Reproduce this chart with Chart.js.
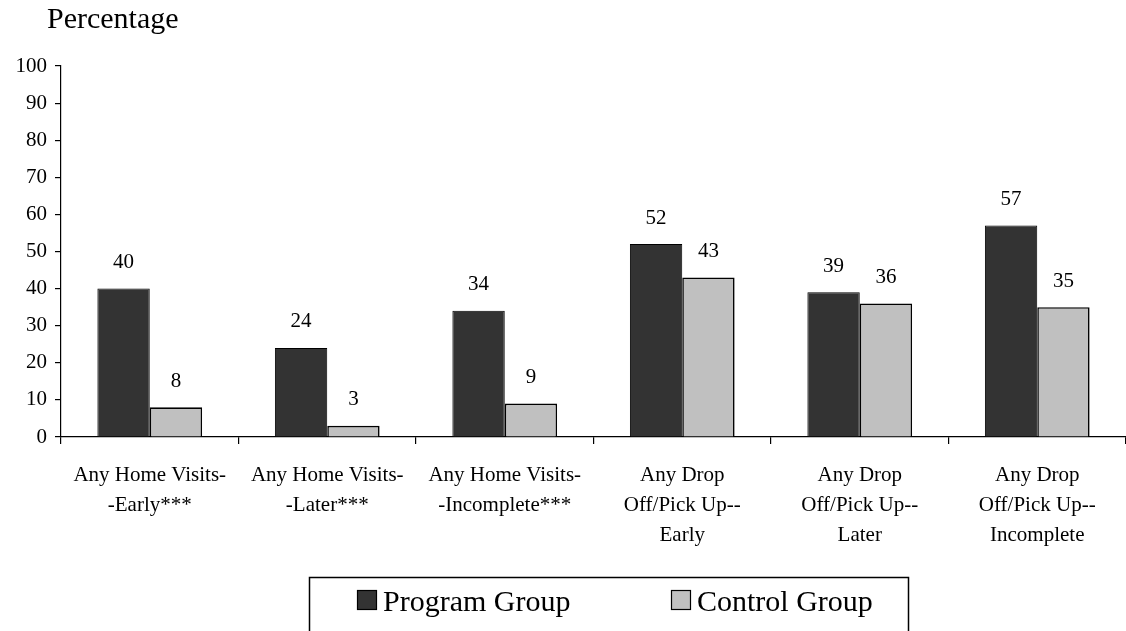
<!DOCTYPE html>
<html>
<head>
<meta charset="utf-8">
<title>Home Visits and Drop Off/Pick Up</title>
<script src="https://cdn.jsdelivr.net/npm/chart.js@4.4.1/dist/chart.umd.min.js"></script>
<style>
    html, body { margin: 0; padding: 0; background: #fff; }
    #wrap { width: 1126px; height: 631px; position: relative; }
</style>
</head>
<body>
<div id="wrap"><canvas id="visitChart"></canvas></div>
<script>
const categories = [
    ['Any Home Visits-', '-Early***'],
    ['Any Home Visits-', '-Later***'],
    ['Any Home Visits-', '-Incomplete***'],
    ['Any Drop', 'Off/Pick Up--', 'Early'],
    ['Any Drop', 'Off/Pick Up--', 'Later'],
    ['Any Drop', 'Off/Pick Up--', 'Incomplete']
];
const programValues = [40, 24, 34, 52, 39, 57];
const controlValues = [8, 3, 9, 43, 36, 35];
const yMin = 0;
const yMax = 100;
const yStep = 10;

const serif = "'Liberation Serif', 'Times New Roman', serif";

// value above each bar
const valueLabels = {
    id: 'valueLabels',
    afterDatasetsDraw(chart) {
        const ctx = chart.ctx;
        ctx.save();
        ctx.font = '21px ' + serif;
        ctx.fillStyle = '#000';
        ctx.textAlign = 'center';
        ctx.textBaseline = 'middle';
        chart.data.datasets.forEach((ds, i) => {
            chart.getDatasetMeta(i).data.forEach((bar, j) => {
                ctx.fillText(String(ds.data[j]), bar.x, bar.y - 26);
            });
        });
        ctx.restore();
    }
};

// y axis caption and boxed legend
const extras = {
    id: 'extras',
    afterDraw(chart) {
        const ctx = chart.ctx;
        ctx.save();
        ctx.fillStyle = '#000';
        ctx.font = '30px ' + serif;
        ctx.textAlign = 'left';
        ctx.textBaseline = 'alphabetic';
        ctx.fillText('Percentage', 47, 28);

        ctx.lineWidth = 1.5;
        ctx.strokeStyle = '#000';
        ctx.strokeRect(309.5, 577.5, 599, 80);

        const items = [
            { x: 357, ds: chart.data.datasets[0] },
            { x: 671, ds: chart.data.datasets[1] }
        ];
        items.forEach(it => {
            ctx.fillStyle = it.ds.backgroundColor;
            ctx.fillRect(it.x, 590, 20, 20);
            ctx.lineWidth = 1.2;
            ctx.strokeStyle = '#000';
            ctx.strokeRect(it.x + 0.5, 590.5, 19, 19);
            ctx.fillStyle = '#000';
            ctx.font = '30px ' + serif;
            ctx.fillText(it.ds.label, it.x + 26, 611);
        });
        ctx.restore();
    }
};

const ctx = document.getElementById('visitChart').getContext('2d');
new Chart(ctx, {
    type: 'bar',
    data: {
        labels: categories,
        datasets: [{
            label: 'Program Group',
            data: programValues,
            backgroundColor: '#333333',
            borderColor: '#000',
            borderWidth: 1,
            categoryPercentage: 0.59,
            barPercentage: 1
        }, {
            label: 'Control Group',
            data: controlValues,
            backgroundColor: '#c0c0c0',
            borderColor: '#000',
            borderWidth: 1.6,
            categoryPercentage: 0.59,
            barPercentage: 1
        }]
    },
    options: {
        responsive: true,
        maintainAspectRatio: false,
        animation: false,
        layout: { padding: { top: 66, right: 0, left: 0, bottom: 0 } },
        plugins: {
            legend: { display: false },
            tooltip: { enabled: false }
        },
        scales: {
            x: {
                grid: {
                    drawOnChartArea: false,
                    color: '#000',
                    tickLength: 7,
                    lineWidth: 1.2
                },
                border: { color: '#000', width: 1.2 },
                ticks: {
                    color: '#000',
                    font: { family: serif, size: 21, lineHeight: 1.43 },
                    padding: 16,
                    maxRotation: 0,
                    autoSkip: false
                },
                afterFit(scale) { scale.height = 194; }
            },
            y: {
                min: yMin,
                max: yMax,
                grid: {
                    drawOnChartArea: false,
                    color: '#000',
                    tickLength: 6,
                    lineWidth: 1.2
                },
                border: { color: '#000', width: 1.2 },
                ticks: {
                    stepSize: yStep,
                    color: '#000',
                    font: { family: serif, size: 21 },
                    padding: 8
                },
                afterFit(scale) { scale.width = 61; }
            }
        }
    },
    plugins: [valueLabels, extras]
});
</script>
</body>
</html>
